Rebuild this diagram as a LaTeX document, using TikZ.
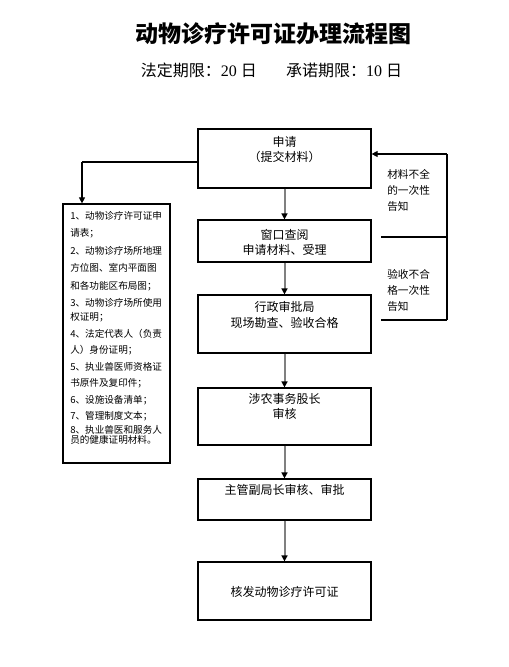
\documentclass[tikz,border=0pt]{standalone}
\usepackage{fontspec}
\setmainfont{Liberation Serif}
\newfontfamily\cjk{Noto Sans CJK SC}
\usetikzlibrary{arrows.meta}
\begin{document}
\begin{tikzpicture}[x=0.75pt,y=-0.75pt,
  box/.style={draw=black,line width=0.9pt,minimum width=173*0.75pt,inner sep=0pt},
  btxt/.style={inner sep=0pt,align=center,font=\cjk\fontsize{9pt}{11.4pt}\selectfont},
  ltxt/.style={inner sep=0pt,anchor=west,font=\cjk\fontsize{7.2pt}{8pt}\selectfont},
  rtxt/.style={inner sep=0pt,anchor=west,align=left,font=\cjk\fontsize{8pt}{12pt}\selectfont},
  flow/.style={draw=black!50,line width=1.5pt,-{Triangle[length=4.5pt,width=4.5pt,color=black]}},
  side/.style={draw=black,line width=0.8pt},
  sidearrow/.style={side,-{Triangle[length=4.5pt,width=4.5pt]}}]
\useasboundingbox (0,0) rectangle (508,667);
% title
\node[inner sep=0pt] (title) at (273,34) {\cjk\bfseries\fontsize{17.25pt}{20pt}\selectfont 动物诊疗许可证办理流程图};
\node[inner sep=0pt] (sub) at (271.5,70) {\fontsize{12pt}{14pt}\selectfont{\cjk 法定期限：}20 {\cjk 日}\hspace{22pt}{\cjk 承诺期限：}10 {\cjk 日}};
% main boxes
\node[box,minimum height=59*0.75pt] (b1) at (284.5,158.5) {};
\node[box,minimum height=42*0.75pt] (b2) at (284.5,241) {};
\node[box,minimum height=58*0.75pt] (b3) at (284.5,324) {};
\node[box,minimum height=57*0.75pt] (b4) at (284.5,416.5) {};
\node[box,minimum height=41*0.75pt] (b5) at (284.5,499.5) {};
\node[box,minimum height=58*0.75pt] (b6) at (284.5,591) {};
\node[btxt] (t1) at (284.5,149.5) {申请\\（提交材料）};
\node[btxt] (t2) at (284.5,242.5) {窗口查阅\\申请材料、受理};
\node[btxt] (t3) at (284.5,315) {行政审批局\\现场勘查、验收合格};
\node[btxt] (t4) at (284.5,406.5) {涉农事务股长\\审核};
\node[btxt] (t5) at (284.5,490) {主管副局长审核、审批};
\node[btxt] (t6) at (284.5,592) {核发动物诊疗许可证};
% flow arrows
\draw[flow] (b1.south) -- (b2.north);
\draw[flow] (b2.south) -- (b3.north);
\draw[flow] (b3.south) -- (b4.north);
\draw[flow] (b4.south) -- (b5.north);
\draw[flow] (b5.south) -- (b6.north);
% left materials box
\node[draw=black,line width=0.9pt,minimum width=107*0.75pt,minimum height=259*0.75pt,inner sep=0pt] (lb) at (116.5,333.5) {};
\foreach \i/\y/\t in {1/216/1、动物诊疗许可证申,2/233/请表；,3/251/2、动物诊疗场所地理,4/268/方位图、室内平面图,5/286/和各功能区布局图；,6/303/3、动物诊疗场所使用,7/317/权证明；,8/334/4、法定代表人（负责,9/350/人）身份证明；,10/367/5、执业兽医师资格证,11/383/书原件及复印件；,12/400/6、设施设备清单；,13/416/7、管理制度文本；,14/430/8、执业兽医和服务人,15/439.5/员的健康证明材料。}
  \node[ltxt] (l\i) at (70,\y) {\t};
\coordinate (cl) at (82,162);
\draw[side] (b1.west |- cl) -- (cl);
\draw[sidearrow] (cl) -- (cl |- lb.north);
% right feedback
\coordinate (r1) at (447,154);
\coordinate (r2) at (447,237);
\coordinate (r3) at (447,320);
\coordinate (h2) at (381,237);
\coordinate (h3) at (381,320);
\draw[sidearrow] (r1) -- (r1 -| b1.east);
\draw[side] (r1) -- (r3);
\draw[side] (h2) -- (r2);
\draw[side] (h3) -- (r3);
\node[rtxt] (n1) at (387,190) {材料不全\\的一次性\\告知};
\node[rtxt] (n2) at (387,290) {验收不合\\格一次性\\告知};
\end{tikzpicture}
\end{document}
